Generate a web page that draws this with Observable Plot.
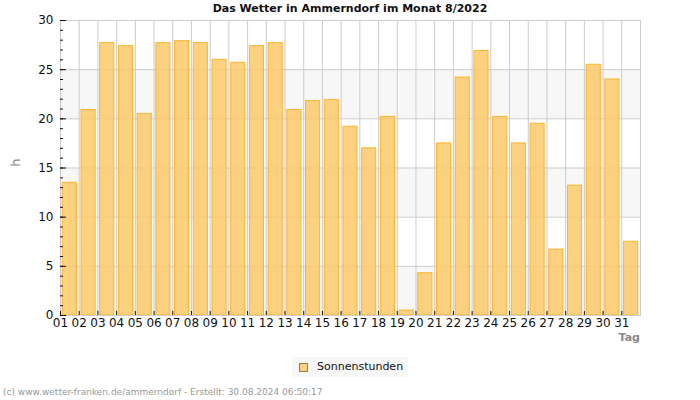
<!DOCTYPE html>
<html>
<head>
<meta charset="utf-8">
<script src="https://cdn.jsdelivr.net/npm/d3@7"></script>
<script src="https://cdn.jsdelivr.net/npm/@observablehq/plot@0.6"></script>
<style>
  html, body { margin: 0; padding: 0; background: #fff; }
  body { width: 700px; height: 400px; position: relative; overflow: hidden; font-family: "DejaVu Sans", sans-serif; }
  #chart { position: absolute; left: 0; top: 0; }
  .title { position: absolute; left: 0; width: 700px; top: 2px; text-align: center; font-weight: bold; font-size: 11px; color: #111; }
  .ylab { position: absolute; left: 11px; top: 155px; font-size: 13px; color: #888; transform: rotate(-90deg); transform-origin: center; }
  .tag { position: absolute; left: 600px; width: 40px; top: 332px; line-height: 11px; text-align: right; font-weight: bold; font-size: 11px; color: #888; }
  .legend { position: absolute; left: 292px; top: 357px; width: 116px; height: 20px; background: #f7f7f7; font-size: 11px; color: #111; }
  .legend .sw { position: absolute; left: 7px; top: 6px; width: 7px; height: 7px; background: #fcd17f; border: 1px solid #9a7a40; }
  .legend .lt { position: absolute; left: 25px; top: 3px; }
  .footer { position: absolute; left: 3px; top: 387px; font-size: 9px; color: #999; }
</style>
</head>
<body>
<div id="chart"></div>
<div class="title">Das Wetter in Ammerndorf im Monat 8/2022</div>
<div class="ylab">h</div>
<div class="tag">Tag</div>
<div class="legend"><div class="sw"></div><div class="lt">Sonnenstunden</div></div>
<div class="footer">(c) www.wetter-franken.de/ammerndorf - Erstellt: 30.08.2024 06:50:17</div>
<script>
const days = ["01","02","03","04","05","06","07","08","09","10","11","12","13","14","15","16","17","18","19","20","21","22","23","24","25","26","27","28","29","30","31"];
const sunHours = [13.5,20.9,27.7,27.4,20.5,27.7,27.9,27.7,26.0,25.7,27.4,27.7,20.9,21.8,21.9,19.2,17.0,20.2,0.5,4.3,17.5,24.2,26.9,20.2,17.5,19.5,6.7,13.2,25.5,24.0,7.5];
const yTicks = [0,5,10,15,20,25,30];
const yMinor = d3.range(0, 31, 1);
const bandsLo = [0,10,20];
const bandsHi = [5,15,25];

const data = days.map((d,i) => ({day: d, h: sunHours[i]}));
const bands = bandsLo.map((lo,i) => ({lo, hi: bandsHi[i]}));
const step = 580 / days.length;
const half = -step / 2;

const plot = Plot.plot({
  width: 700,
  height: 400,
  marginLeft: 60,
  marginRight: 60,
  marginTop: 20,
  marginBottom: 85,
  style: {fontFamily: "DejaVu Sans, sans-serif", fontSize: "12px", color: "#111", background: "transparent"},
  x: {type: "band", domain: days, padding: 0, round: false, label: null},
  y: {domain: [0, 30], label: null},
  marks: [
    Plot.rect(bands, {y1: "lo", y2: "hi", fill: "#f7f7f7"}),
    Plot.ruleY(yTicks, {stroke: "#cccccc"}),
    Plot.ruleX(days, {x: d => d, dx: half, stroke: "#cccccc"}),
    Plot.barY(data, {x: "day", y: "h", fill: "#fbc968", fillOpacity: 0.85, stroke: "#fbb530", strokeWidth: 1, insetLeft: 2.3, insetRight: 2.3}),
    Plot.frame({stroke: "#cccccc"}),
    Plot.axisY({ticks: yTicks, tickSize: 0, tickPadding: 7, fontSize: 12, label: null}),
    Plot.axisY({ticks: yTicks, tickSize: -6, text: null, stroke: "#111"}),
    Plot.axisY({ticks: yMinor, tickSize: -3, text: null, stroke: "#111"}),
    Plot.axisX({tickSize: 0, tickPadding: 3, dx: half, fontSize: 12, label: null}),
    Plot.axisX({tickSize: -4, text: null, dx: half, stroke: "#111"})
  ]
});
document.getElementById("chart").appendChild(plot);
</script>
</body>
</html>
